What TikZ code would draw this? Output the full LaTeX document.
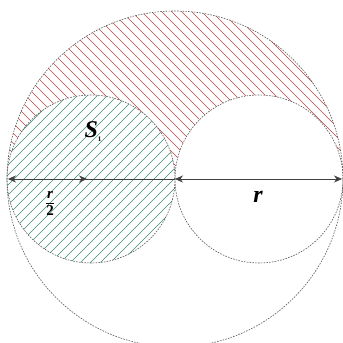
\documentclass[tikz,border=0pt]{standalone}
\usepackage{fontspec}
\setmainfont{Liberation Serif}
\usetikzlibrary{arrows.meta,calc}
\definecolor{hred}{RGB}{185,70,70}
\definecolor{hgreen}{RGB}{60,140,110}
\definecolor{circgray}{RGB}{90,90,90}
\begin{document}
\begin{tikzpicture}[x=1pt,y=1pt,
  circ/.style={draw=circgray, dash pattern=on 1.6pt off 1.2pt, line width=0.6pt},
  redh/.style={draw=hred, line width=0.6pt},
  greenh/.style={draw=hgreen, line width=0.6pt},
  dim/.style={draw=black!75, line width=0.7pt},
  tip/.style={-{Stealth[length=8pt,width=7pt]}},
  lab/.style={inner sep=0pt, font=\bfseries\itshape}
]
\useasboundingbox (0,0) rectangle (343,343);
\fill[white] (0,0) rectangle (343,343);
\coordinate (O) at (175,164);
\coordinate (A) at (91,164);
\coordinate (B) at (259,164);
\coordinate (L) at (8,164);
\coordinate (T) at (175,164);
\coordinate (R) at (342,164);
% red hatching: upper half of big circle
\begin{scope}
  \clip (O) circle (168);
  \clip (0,164) rectangle (343,343);
  \foreach \k in {-36,...,36} \draw[redh] (\k*10,343) -- ++(343,-343);
\end{scope}
\fill[white] (A) circle (84);
\fill[white] (B) circle (84);
% green hatching in left circle
\begin{scope}
  \clip (A) circle (84);
  \foreach \k in {-36,...,36} \draw[greenh] (\k*10,0) -- ++(343,343);
\end{scope}
% dashed circles
\draw[circ] (O) circle (168);
\draw[circ] (A) circle (84);
\draw[circ] (B) circle (84);
% dimension arrows
\draw[dim,tip] (A) -- (L);
\draw[dim,tip] ($(L)!0.5!(A)$) -- ([xshift=-4pt]A);
\draw[dim] (A) -- (T);
\draw[dim,tip] ($(T)!0.5!(R)$) -- (T);
\draw[dim,tip] ($(T)!0.5!(R)$) -- (R);
% labels
\node[lab, font=\fontsize{24}{24}\selectfont\bfseries\itshape] (s1) at (93,211) {S\raisebox{-4pt}{\fontsize{7}{7}\selectfont\upshape 1}};
\node[inner sep=0pt, font=\fontsize{15}{15}\selectfont\bfseries] (half) at (50,139)
  {\begin{tabular}{@{}c@{}}\itshape r\\[0pt]\hline\noalign{\vskip2pt} 2\end{tabular}};
\node[lab, font=\fontsize{24}{24}\selectfont\bfseries\itshape] (rl) at (258,146) {r};
\end{tikzpicture}
\end{document}
